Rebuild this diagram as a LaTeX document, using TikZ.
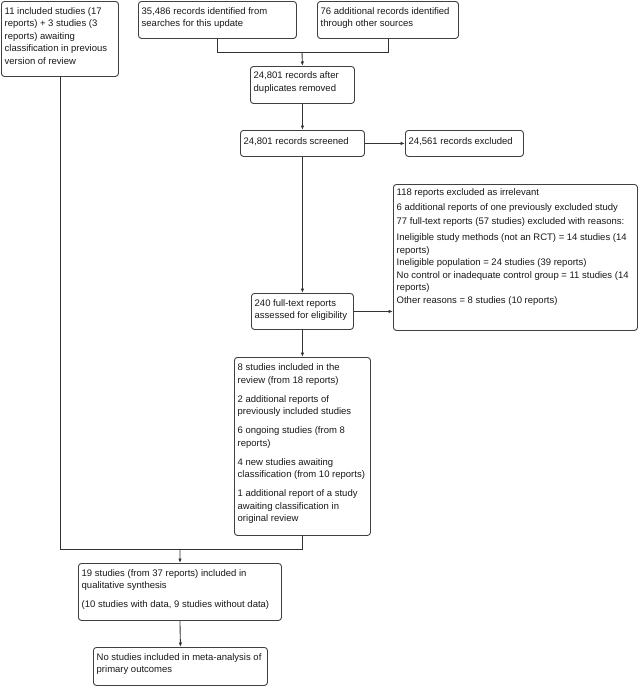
\documentclass[tikz,border=0pt]{standalone}
\usepackage{fontspec}
\setmainfont{Liberation Sans}
\usetikzlibrary{arrows.meta}
\tikzset{
  boxst/.style={draw=black!75, line width=0.9pt, rounded corners=3pt, fill=white, inner sep=0pt},
  txtst/.style={inner sep=0pt, font=\fontsize{9.5}{12.5}\selectfont, text=black!90},
  conn/.style={draw=black!80, line width=0.9pt},
  arr/.style={conn, -{Latex[length=4.5pt,width=3.5pt]}},
}
% name, x1, y1, x2, y2, first-baseline offset, text
\newcommand\bx[7]{%
  \pgfmathsetmacro\bw{#4-#2}\pgfmathsetmacro\bh{#5-#3}%
  \node[boxst, minimum width=\bw pt, minimum height=\bh pt, anchor=north west] (#1) at (#2,#3) {};%
  \node[txtst, anchor=base west] (#1T) at ([xshift=3.5pt,yshift=-#6pt]#1.north west)
    {\begin{tabular}[t]{@{}l@{}}#7\end{tabular}};%
}
\begin{document}
\begin{tikzpicture}[x=1pt,y=-1pt]
\useasboundingbox (0,0) rectangle (639,686);

\bx{A}{1}{1}{118}{76}{13}{11 included studies (17\\ reports) + 3 studies (3\\ reports) awaiting\\ classification in previous\\ version of review}
\bx{B}{138}{1}{296}{38}{13}{35,486 records identified from\\ searches for this update}
\bx{C}{317}{1}{458}{38}{13}{76 additional records identified\\ through other sources}
\bx{D}{250}{66}{354}{103}{12.5}{24,801 records after\\ duplicates removed}
\bx{E}{240}{130}{364}{156}{14}{24,801 records screened}
\bx{F}{405}{130}{523}{156}{14}{24,561 records excluded}
\bx{G}{251}{293}{353}{329}{13}{240 full-text reports\\ assessed for eligibility}
\bx{H}{393}{184}{637}{330}{11.5}{118 reports excluded as irrelevant\\[2.5pt] 6 additional reports of one previously excluded study\\[1.5pt] 77 full-text reports (57 studies) excluded with reasons:\\[3.5pt] Ineligible study methods (not an RCT) = 14 studies (14\\ reports)\\ Ineligible population = 24 studies (39 reports)\\ No control or inadequate control group = 11 studies (14\\ reports)\\ Other reasons = 8 studies (10 reports)}
\bx{I}{234}{357}{370}{535}{13.5}{8 studies included in the\\ review (from 18 reports)\\[6.5pt] 2 additional reports of\\ previously included studies\\[6.5pt] 6 ongoing studies (from 8\\ reports)\\[6.5pt] 4 new studies awaiting\\ classification (from 10 reports)\\[6.5pt] 1 additional report of a study\\ awaiting classification in\\ original review}
\bx{J}{78}{563}{281}{620}{13}{19 studies (from 37 reports) included in\\ qualitative synthesis\\[6.5pt] (10 studies with data, 9 studies without data)}
\bx{K}{93}{647}{267}{685}{13}{No studies included in meta-analysis of\\ primary outcomes}

\coordinate (m1) at (302,52);
\coordinate (m2) at (180,549);

\draw[conn] (B.south) |- (m1);
\draw[conn] (C.south) |- (m1);
\draw[arr] (m1) -- (D.north);
\draw[arr] (D.south) -- (E.north);
\draw[arr] (E.east) -- (F.west);
\draw[arr] (E.south) -- (G.north);
\draw[arr] (G.east) -- (G.east -| H.west);
\draw[arr] (G.south) -- (I.north);
\draw[conn] (A.south) |- (m2);
\draw[conn] (I.south) |- (m2);
\draw[arr] (m2) -- (J.north);
\draw[arr] (J.south) -- (K.north);
\end{tikzpicture}
\end{document}
